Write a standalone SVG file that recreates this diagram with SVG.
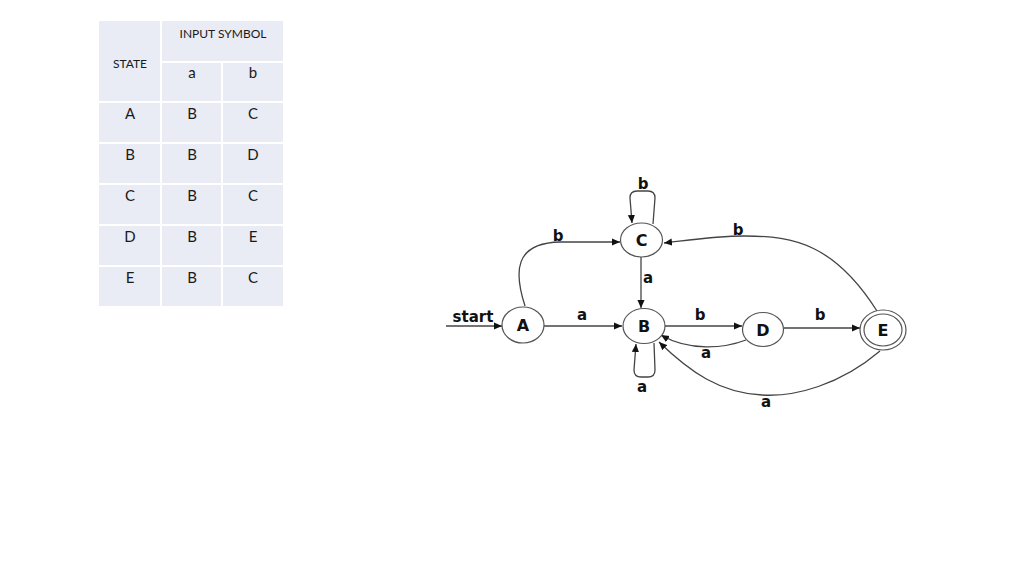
<svg xmlns="http://www.w3.org/2000/svg" width="1024" height="576" viewBox="0 0 1024 576">
<style>
.cell{fill:#e9ebf5;stroke:#ffffff;stroke-width:2}
.th{font-family:Lato,"Open Sans",sans-serif;font-size:12px;fill:#1a1a1a;text-anchor:middle}
.td{font-family:Lato,"Open Sans",sans-serif;font-size:15px;fill:#1a1a1a;text-anchor:middle}
.node ellipse{fill:#ffffff;stroke:#555;stroke-width:1.2}
.nl{font-family:"DejaVu Sans",Verdana,sans-serif;font-size:16px;font-weight:bold;fill:#111;text-anchor:middle}
.edge{fill:none;stroke:#444;stroke-width:1.3;marker-end:url(#ah)}
.el{font-family:"DejaVu Sans",Verdana,sans-serif;font-size:15px;font-weight:bold;fill:#111;text-anchor:middle}
</style>
<defs>
<marker id="ah" viewBox="0 0 10 10" refX="10" refY="5" markerWidth="8" markerHeight="8" markerUnits="userSpaceOnUse" orient="auto">
<path d="M0,0.5 L10,5 L0,9.5 Z" fill="#111"/>
</marker>
</defs>
<rect width="1024" height="576" fill="#ffffff"/>
<g id="table">
<rect class="cell" x="98" y="20" width="63" height="82"/>
<rect class="cell" x="161" y="20" width="123" height="42"/>
<rect class="cell" x="161" y="62" width="61" height="40"/>
<rect class="cell" x="222" y="62" width="62" height="40"/>
<rect class="cell" x="98" y="102" width="63" height="41"/>
<rect class="cell" x="161" y="102" width="61" height="41"/>
<rect class="cell" x="222" y="102" width="62" height="41"/>
<rect class="cell" x="98" y="143" width="63" height="41"/>
<rect class="cell" x="161" y="143" width="61" height="41"/>
<rect class="cell" x="222" y="143" width="62" height="41"/>
<rect class="cell" x="98" y="184" width="63" height="41"/>
<rect class="cell" x="161" y="184" width="61" height="41"/>
<rect class="cell" x="222" y="184" width="62" height="41"/>
<rect class="cell" x="98" y="225" width="63" height="41"/>
<rect class="cell" x="161" y="225" width="61" height="41"/>
<rect class="cell" x="222" y="225" width="62" height="41"/>
<rect class="cell" x="98" y="266" width="63" height="41"/>
<rect class="cell" x="161" y="266" width="61" height="41"/>
<rect class="cell" x="222" y="266" width="62" height="41"/>
<text class="th" x="130" y="68">STATE</text>
<text class="th" x="223" y="38">INPUT SYMBOL</text>
<text class="td" x="192" y="78">a</text>
<text class="td" x="253" y="78">b</text>
<text class="td" x="130" y="119">A</text><text class="td" x="192" y="119">B</text><text class="td" x="253" y="119">C</text>
<text class="td" x="130" y="160">B</text><text class="td" x="192" y="160">B</text><text class="td" x="253" y="160">D</text>
<text class="td" x="130" y="201">C</text><text class="td" x="192" y="201">B</text><text class="td" x="253" y="201">C</text>
<text class="td" x="130" y="242">D</text><text class="td" x="192" y="242">B</text><text class="td" x="253" y="242">E</text>
<text class="td" x="130" y="283">E</text><text class="td" x="192" y="283">B</text><text class="td" x="253" y="283">C</text>
</g>
<g id="connectors">
<path class="edge" d="M446,326 L502,326"/>
<path class="edge" d="M544,326 L622,326"/>
<path class="edge" d="M525,306 C514,272 514,243 560,242 L620,242"/>
<path class="edge" d="M653,224 L655,198 Q655,191 648,191 L637,191 Q630,191 630,198 L632,223"/>
<path class="edge" d="M641,257 L641,308"/>
<path class="edge" d="M654,343 L655,370 Q655,377 648,377 L641,377 Q634,377 634,370 L636,344"/>
<path class="edge" d="M665,326 L742,326"/>
<path class="edge" d="M746,340 C725,348 690,352 661,335"/>
<path class="edge" d="M784,328 L860,328"/>
<path class="edge" d="M877,311 C835,245 795,236 745,236 C715,236 690,240 664,243"/>
<path class="edge" d="M880,351 C840,385 795,397 762,395 C720,393 690,372 659,342"/>
<text class="el" x="473" y="322">start</text>
<text class="el" x="582" y="320">a</text>
<text class="el" x="558" y="241">b</text>
<text class="el" x="643" y="189">b</text>
<text class="el" x="648" y="283">a</text>
<text class="el" x="642" y="392">a</text>
<text class="el" x="700" y="320">b</text>
<text class="el" x="706" y="358">a</text>
<text class="el" x="820" y="320">b</text>
<text class="el" x="738" y="235">b</text>
<text class="el" x="766" y="407">a</text>
</g>
<g id="node-A" class="node"><ellipse cx="523" cy="325" rx="21" ry="18"/><text class="nl" x="523" y="331">A</text></g>
<g id="node-B" class="node"><ellipse cx="644" cy="326" rx="21" ry="17.5"/><text class="nl" x="644" y="332">B</text></g>
<g id="node-C" class="node"><ellipse cx="641.5" cy="240" rx="21" ry="17"/><text class="nl" x="641.5" y="246">C</text></g>
<g id="node-D" class="node"><ellipse cx="763" cy="329.5" rx="20.5" ry="17"/><text class="nl" x="763" y="335.5">D</text></g>
<g id="node-E" class="node"><ellipse cx="883" cy="330" rx="23" ry="20"/><ellipse cx="883" cy="330" rx="19" ry="16"/><text class="nl" x="883" y="336">E</text></g>
</svg>
